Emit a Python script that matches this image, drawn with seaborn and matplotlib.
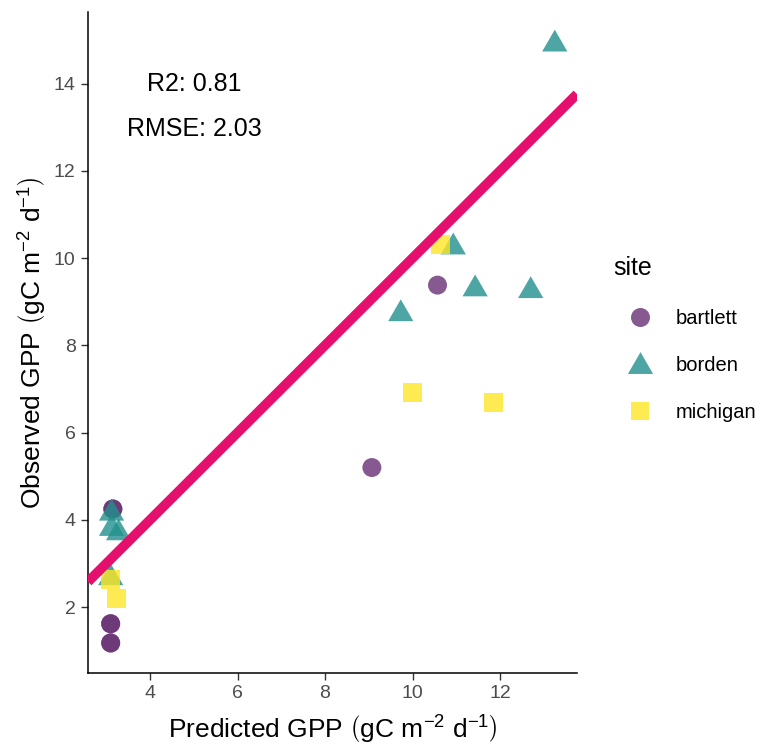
import numpy as np
import pandas as pd
import matplotlib
matplotlib.use("Agg")
import matplotlib.pyplot as plt
from matplotlib.path import Path
import seaborn as sns

# Predicted vs observed GPP per site (gC m-2 d-1)
bartlett_pred = [3.15, 3.15, 3.10, 3.10, 3.10, 3.10, 10.57, 9.07]
bartlett_obs = [4.25, 4.25, 1.62, 1.62, 1.18, 1.18, 9.38, 5.20]
borden_pred = [13.25, 10.93, 11.43, 12.70, 9.73, 3.12, 3.12, 3.28, 3.10]
borden_obs = [14.95, 10.30, 9.34, 9.30, 8.77, 4.20, 3.85, 3.75, 2.72]
michigan_pred = [10.64, 10.00, 11.86, 3.09, 3.23]
michigan_obs = [10.30, 6.91, 6.70, 2.64, 2.20]

sites = ["bartlett", "borden", "michigan"]
site_colors = ["#683174", "#21908C", "#FDE725"]
r2_label = "R2: 0.81"
rmse_label = "RMSE: 2.03"

df = pd.concat([
    pd.DataFrame({"pred": bartlett_pred, "obs": bartlett_obs, "site": "bartlett"}),
    pd.DataFrame({"pred": borden_pred, "obs": borden_obs, "site": "borden"}),
    pd.DataFrame({"pred": michigan_pred, "obs": michigan_obs, "site": "michigan"}),
], ignore_index=True)

sns.set_style("ticks")
plt.rcParams["font.family"] = ["Liberation Sans", "DejaVu Sans"]
plt.rcParams["mathtext.fontset"] = "custom"
plt.rcParams["mathtext.rm"] = "Liberation Sans"
plt.rcParams["mathtext.it"] = "Liberation Sans:italic"
plt.rcParams["text.color"] = "black"
plt.rcParams["axes.labelcolor"] = "black"

fig = plt.figure(figsize=(7.62, 7.47), dpi=100)
ax = fig.add_axes([88 / 762, 1 - 673 / 747, (577 - 88) / 762, (673 - 12) / 747])

tri = Path([(-1.0, -0.75), (1.0, -0.75), (0.0, 0.98), (-1.0, -0.75)],
           [Path.MOVETO, Path.LINETO, Path.LINETO, Path.CLOSEPOLY])

sns.scatterplot(
    data=df, x="pred", y="obs",
    hue="site", style="site", size="site",
    hue_order=sites, style_order=sites, size_order=sites,
    palette=dict(zip(sites, site_colors)),
    markers={"bartlett": "o", "borden": tri, "michigan": "s"},
    sizes={"bartlett": 187, "borden": 330, "michigan": 187},
    alpha=0.8, linewidth=0, edgecolor="none", ax=ax, zorder=2,
)

# ggplot-like 5% expansion of the data range
xmin, xmax = df["pred"].min(), df["pred"].max()
ymin, ymax = df["obs"].min(), df["obs"].max()
xr, yr = xmax - xmin, ymax - ymin
ax.set_xlim(xmin - 0.05 * xr, xmax + 0.05 * xr)
ax.set_ylim(ymin - 0.05 * yr, ymax + 0.05 * yr)

# 1:1 line
ax.axline((0, 0), slope=1, color="#E5106E", lw=7, solid_capstyle="butt", zorder=3)

ax.set_xticks([4, 6, 8, 10, 12])
ax.set_yticks([2, 4, 6, 8, 10, 12, 14])
ax.tick_params(axis="both", labelsize=14, labelcolor="#4D4D4D", color="#333333",
               length=5, width=1.0, pad=4)
for side in ["top", "right"]:
    ax.spines[side].set_visible(False)
for side in ["left", "bottom"]:
    ax.spines[side].set_linewidth(1.1)
    ax.spines[side].set_color("black")

ax.set_xlabel(r"Predicted GPP $\left(\mathrm{gC\ m^{-2}\ d^{-1}}\right)$", fontsize=19, labelpad=8)
ax.set_ylabel(r"Observed GPP $\left(\mathrm{gC\ m^{-2}\ d^{-1}}\right)$", fontsize=19, labelpad=3)

ax.text(5.02, 14.0, r2_label, ha="center", va="center", fontsize=18)
ax.text(5.02, 12.95, rmse_label, ha="center", va="center", fontsize=18)

sns.move_legend(
    ax, "center left", bbox_to_anchor=(1.057, 0.505), frameon=False,
    title="site", title_fontsize=18, fontsize=14.5, labelspacing=1.4,
    handlelength=2.7, handletextpad=0.4, borderaxespad=0,
)
leg = ax.get_legend()
leg._legend_box.align = "left"

fig.savefig("out.png", dpi=100)
